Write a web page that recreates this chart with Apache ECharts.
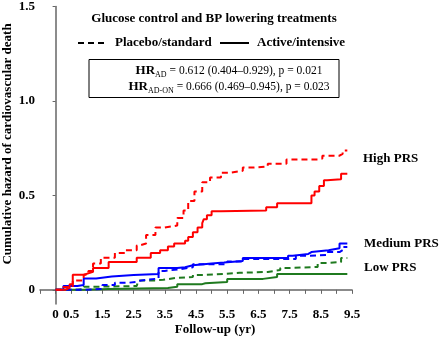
<!DOCTYPE html>
<html><head><meta charset="utf-8">
<script src="https://cdn.jsdelivr.net/npm/echarts@6/dist/echarts.min.js"></script>
<style>html,body{margin:0;padding:0;background:#fff}#c{width:440px;height:344px}</style>
</head><body><div id="c"></div>
<script>
// ---- data (time in years, cumulative hazard) ----
const highPlacebo = [[0,0],[0.25,0.015],[0.55,0.05],[0.9,0.08],[1.05,0.1],[1.2,0.14],[1.45,0.17],[1.9,0.195],[2.25,0.21],[2.6,0.235],[2.7,0.245],[2.9,0.29],[3.2,0.33],[3.5,0.34],[3.9,0.38],[4.1,0.42],[4.25,0.47],[4.45,0.52],[4.7,0.57],[4.95,0.595],[5.3,0.62],[5.6,0.63],[6.0,0.647],[6.3,0.653],[6.8,0.668],[7.4,0.69],[8.4,0.695],[8.55,0.71],[9.1,0.72],[9.2,0.737],[9.35,0.737]];
const highActive = [[0,0],[0.3,0.01],[0.45,0.03],[0.55,0.08],[0.9,0.09],[1.1,0.095],[1.2,0.115],[1.7,0.147],[2.6,0.17],[3.05,0.195],[3.35,0.21],[3.6,0.23],[3.8,0.245],[4.15,0.26],[4.25,0.28],[4.4,0.305],[4.55,0.33],[4.7,0.353],[4.75,0.374],[4.85,0.395],[5.0,0.416],[5.3,0.42],[6.75,0.437],[7.1,0.458],[8.2,0.5],[8.3,0.52],[8.45,0.55],[8.6,0.58],[8.7,0.585],[9.15,0.615],[9.35,0.615]];
const mediumPlacebo = [[0,0],[0.85,0.005],[1.5,0.026],[1.9,0.037],[2.3,0.042],[2.6,0.05],[2.75,0.06],[3.3,0.1],[3.5,0.11],[4.0,0.12],[4.4,0.135],[5.5,0.15],[6.0,0.163],[7.7,0.18],[8.1,0.185],[8.7,0.2],[9.1,0.21],[9.2,0.227],[9.35,0.227]];
const mediumActive = [[0,0],[0.25,0.02],[0.7,0.025],[0.9,0.06],[1.3,0.07],[1.8,0.079],[2.5,0.084],[3.3,0.115],[3.9,0.12],[4.15,0.13],[4.4,0.14],[5.0,0.145],[5.4,0.153],[6.0,0.168],[7.45,0.18],[7.6,0.19],[8.1,0.2],[8.2,0.21],[8.75,0.22],[9.1,0.245],[9.35,0.245]];
const lowPlacebo = [[0,0],[0.7,0.005],[0.9,0.016],[1.1,0.02],[2.6,0.03],[2.65,0.05],[3.2,0.053],[3.45,0.063],[3.85,0.068],[4.4,0.079],[4.8,0.084],[5.4,0.09],[5.9,0.095],[6.8,0.105],[7.2,0.116],[7.5,0.121],[8.4,0.142],[8.7,0.147],[9.15,0.168],[9.35,0.168]];
const lowActive = [[0,0],[0.9,0.005],[1.7,0.01],[3.6,0.016],[3.9,0.03],[4.7,0.035],[4.8,0.042],[5.5,0.058],[6.65,0.068],[7.1,0.084],[9.35,0.084]];
const xTickLabels = [0,0.5,1.5,2.5,3.5,4.5,5.5,6.5,7.5,8.5,9.5];
const yTickValues = [0,0.5,1,1.5];
const yTickLabels = ['0','0.5','1.0','1.5'];
const groupLabels = ['High PRS','Medium PRS','Low PRS'];
const title = 'Glucose control and BP lowering treatments';
const legendNames = ['Placebo/standard','Active/intensive'];
const hrLines = [['AD',' = 0.612 (0.404\u20130.929), p = 0.021'],['AD-ON',' = 0.666 (0.469\u20130.945), p = 0.023']];

const SERIF = '"Liberation Serif","Times New Roman",serif';
const RED='#ff0000', BLUE='#0000ff', GREEN='#1f7a1f';
const DASH=[6,4];
function mk(name,data,color,dashed){
  return {name,type:'line',data,step:'end',symbol:'none',silent:true,
    lineStyle:{color,width:2,type:dashed?DASH:'solid'}};
}
const chart = echarts.init(document.getElementById('c'),null,{renderer:'canvas'});
const axisColor='#666';
chart.setOption({
  animation:false,
  grid:{left:40,right:88,top:5,bottom:40},
  xAxis:{type:'value',min:-0.5,max:9.5,interval:0.5,
    axisLine:{lineStyle:{color:axisColor,width:1.5}},
    axisTick:{show:true,length:4,lineStyle:{color:axisColor}},
    splitLine:{show:false},
    axisLabel:{customValues:xTickLabels,margin:4,color:'#000',fontFamily:SERIF,fontWeight:'bold',fontSize:13,
      formatter:v=>v===0?'0':v.toFixed(1)}},
  yAxis:{type:'value',min:-0.075,max:1.5,
    axisLine:{show:true,lineStyle:{color:axisColor,width:1.5}},
    axisTick:{show:true,length:3,customValues:yTickValues,lineStyle:{color:axisColor}},
    splitLine:{show:false},
    axisLabel:{customValues:yTickValues,margin:5,color:'#000',fontFamily:SERIF,fontWeight:'bold',fontSize:13,
      formatter:v=>yTickLabels[yTickValues.indexOf(v)]}},
  series:[
    mk('Low placebo',lowPlacebo,GREEN,true),
    mk('Low active',lowActive,GREEN,false),
    mk('Medium placebo',mediumPlacebo,BLUE,true),
    mk('Medium active',mediumActive,BLUE,false),
    mk('High placebo',highPlacebo,RED,true),
    mk('High active',highActive,RED,false)
  ],
  graphic:[
    {type:'text',x:214,y:19,style:{text:title,font:'bold 13px '+SERIF,fill:'#000',align:'center',verticalAlign:'middle'}},
    {type:'line',shape:{x1:78,y1:43,x2:107,y2:43},style:{stroke:'#000',lineWidth:2,lineDash:DASH}},
    {type:'text',x:115,y:43,style:{text:legendNames[0],font:'bold 13px '+SERIF,fill:'#000',align:'left',verticalAlign:'middle'}},
    {type:'line',shape:{x1:220,y1:43,x2:249,y2:43},style:{stroke:'#000',lineWidth:2}},
    {type:'text',x:257,y:43,style:{text:legendNames[1],font:'bold 13px '+SERIF,fill:'#000',align:'left',verticalAlign:'middle'}},
    {type:'rect',shape:{x:89,y:59.5,width:250,height:38},style:{fill:'none',stroke:'#000',lineWidth:1}},
    ...hrLines.map((l,i)=>({type:'text',x:229,y:i===0?71:87,style:{
      text:'{hr|HR}{sub|'+l[0]+'}{v|'+l[1]+'}',align:'center',verticalAlign:'middle',
      rich:{hr:{fontFamily:SERIF,fontWeight:'bold',fontSize:13,fill:'#000',verticalAlign:'middle',lineHeight:15},
            sub:{fontFamily:SERIF,fontSize:8,fill:'#000',verticalAlign:'bottom',lineHeight:9},
            v:{fontFamily:SERIF,fontSize:11.5,fill:'#000',verticalAlign:'middle',lineHeight:15}}}})),
    {type:'text',x:363,y:159,style:{text:groupLabels[0],font:'bold 13px '+SERIF,fill:'#000',align:'left',verticalAlign:'middle'}},
    {type:'text',x:364,y:244,style:{text:groupLabels[1],font:'bold 13px '+SERIF,fill:'#000',align:'left',verticalAlign:'middle'}},
    {type:'text',x:364,y:268,style:{text:groupLabels[2],font:'bold 13px '+SERIF,fill:'#000',align:'left',verticalAlign:'middle'}},
    {type:'text',x:215,y:330,style:{text:'Follow-up (yr)',font:'bold 13px '+SERIF,fill:'#000',align:'center',verticalAlign:'middle'}},
    {type:'text',x:8,y:144,rotation:Math.PI/2,style:{text:'Cumulative hazard of cardiovascular death',font:'bold 13px '+SERIF,fill:'#000',align:'center',verticalAlign:'middle'}}
  ]
});
</script></body></html>
